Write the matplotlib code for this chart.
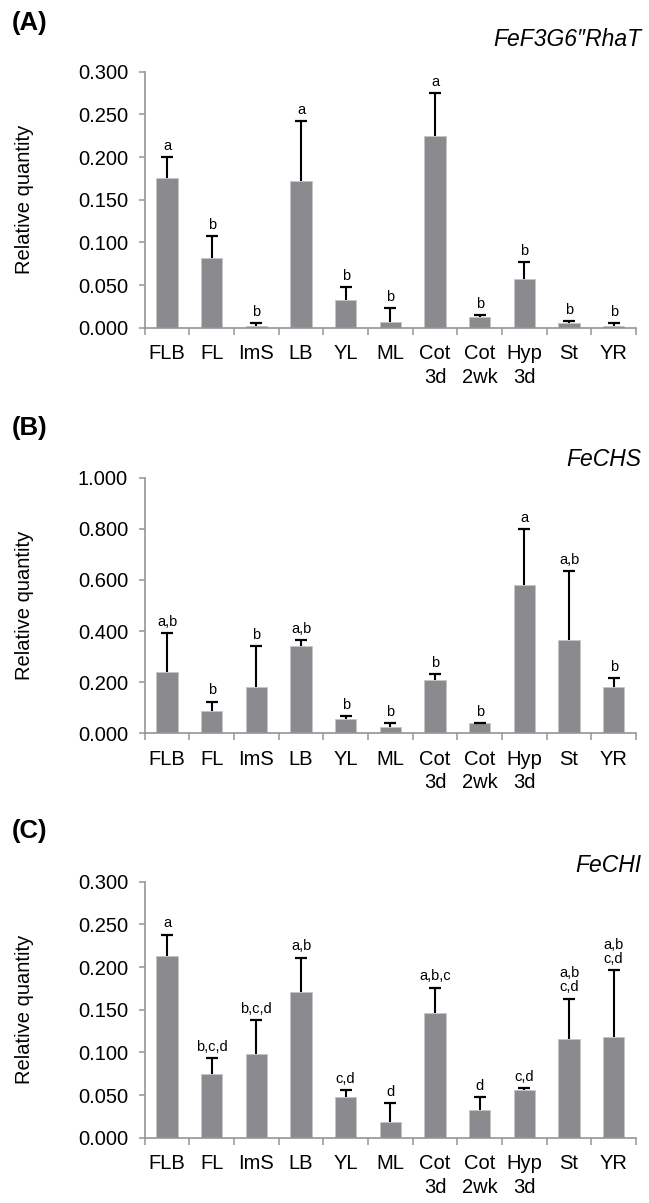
import numpy as np
import matplotlib
matplotlib.use('Agg')
import matplotlib.pyplot as plt

plt.rcParams['font.family'] = ['Liberation Sans', 'DejaVu Sans']

# * Dados
tecidos = ['FLB', 'FL', 'ImS', 'LB', 'YL', 'ML', 'Cot\n3d', 'Cot\n2wk', 'Hyp\n3d', 'St', 'YR']

rhat_media = [0.175, 0.082, 0.002, 0.172, 0.032, 0.007, 0.225, 0.012, 0.057, 0.005, 0.002]
rhat_erro = [0.025, 0.025, 0.0035, 0.070, 0.016, 0.016, 0.050, 0.003, 0.020, 0.0027, 0.0035]
rhat_letras = ['a', 'b', 'b', 'a', 'b', 'b', 'a', 'b', 'b', 'b', 'b']

chs_media = [0.239, 0.089, 0.181, 0.340, 0.056, 0.024, 0.207, 0.039, 0.581, 0.365, 0.181]
chs_erro = [0.152, 0.035, 0.159, 0.025, 0.010, 0.016, 0.025, 0.002, 0.218, 0.269, 0.035]
chs_letras = ['a,b', 'b', 'b', 'a,b', 'b', 'b', 'b', 'b', 'a', 'a,b', 'b']

chi_media = [0.213, 0.075, 0.098, 0.171, 0.048, 0.018, 0.146, 0.033, 0.0555, 0.116, 0.118]
chi_erro = [0.025, 0.018, 0.040, 0.040, 0.008, 0.023, 0.030, 0.015, 0.003, 0.047, 0.078]
chi_letras = ['a', 'b,c,d', 'b,c,d', 'a,b', 'c,d', 'd', 'a,b,c', 'd', 'c,d', 'a,b\nc,d', 'a,b\nc,d']

paineis = [
    ('(A)', 'FeF3G6\u2033RhaT', rhat_media, rhat_erro, rhat_letras, 0.3, 0.05),
    ('(B)', 'FeCHS', chs_media, chs_erro, chs_letras, 1.0, 0.2),
    ('(C)', 'FeCHI', chi_media, chi_erro, chi_letras, 0.3, 0.05),
]

W, H = 649, 1203
# posições em pixels: (topo do eixo, base do eixo, topo do rótulo, centro do título)
layout = [(71.7, 327.7, 11, 39), (477.7, 733.3, 416, 459), (881.7, 1137.7, 819, 866)]
x0, x1 = 144.7, 636

cinza_barra = '#8b8a8f'
cinza_eixo = '#959595'

fig = plt.figure(figsize=(W / 100, H / 100), dpi=100)

for (rotulo, titulo, media, erro, letras, ymax, passo), (top, bot, ltop, tcen) in zip(paineis, layout):
    ax = fig.add_axes([x0 / W, 1 - bot / H, (x1 - x0) / W, (bot - top) / H])
    x = np.arange(len(tecidos))
    ax.bar(x, media, width=0.48, color=cinza_barra, edgecolor='#c4c4c4', linewidth=0.6, zorder=2)
    eb = ax.errorbar(x, media, yerr=[np.zeros(len(media)), erro], fmt='none', ecolor='black',
                     elinewidth=1.5, capsize=4.5, capthick=1.6, zorder=3)
    # * só a barra de erro superior
    eb[1][0].set_visible(False)
    for xi, m, e, l in zip(x, media, erro, letras):
        ax.annotate(l, (xi, m + e), xytext=(0, 3), textcoords='offset points',
                    ha='center', va='bottom', fontsize=10.5, linespacing=1.0)

    ax.set_xlim(-0.5, len(tecidos) - 0.5)
    ax.set_ylim(0, ymax)
    ax.set_yticks(np.arange(0, ymax + passo / 2, passo))
    ax.set_yticklabels(['%.3f' % v for v in np.arange(0, ymax + passo / 2, passo)])
    ax.set_xticks(x)
    ax.set_xticklabels(tecidos, linespacing=1.3)
    ax.set_xticks(np.arange(-0.5, len(tecidos)), minor=True)
    ax.tick_params(axis='x', which='major', length=0, pad=12, labelsize=14.5)
    ax.tick_params(axis='x', which='minor', length=5, width=1.1, color=cinza_eixo, direction='out')
    ax.tick_params(axis='y', length=4, width=1.1, color=cinza_eixo, pad=8, labelsize=14.5)

    for s in ['top', 'right']:
        ax.spines[s].set_visible(False)
    for s in ['left', 'bottom']:
        ax.spines[s].set_color(cinza_eixo)
        ax.spines[s].set_linewidth(1.2)

    ax.set_ylabel('Relative quantity', fontsize=14.5)
    ax.yaxis.set_label_coords((34.5 - x0) / (x1 - x0), 0.5)

    fig.text(12 / W, 1 - ltop / H, rotulo, fontsize=18.5, fontweight='bold', ha='left', va='top')
    fig.text(641 / W, 1 - tcen / H, titulo, fontsize=16.5, style='italic', ha='right', va='center')

fig.savefig('out.png', dpi=100)
